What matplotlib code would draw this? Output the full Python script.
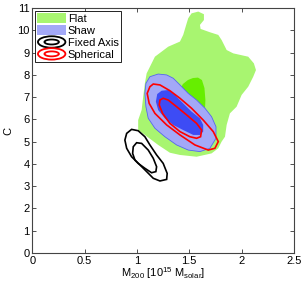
import matplotlib
matplotlib.use("Agg")
import matplotlib.pyplot as plt
from matplotlib.patches import Polygon, Ellipse, Rectangle
from matplotlib.legend_handler import HandlerBase

plt.rcParams['font.family'] = ['Liberation Sans', 'DejaVu Sans']
plt.rcParams['mathtext.fontset'] = 'custom'
plt.rcParams['mathtext.rm'] = 'Liberation Sans'
plt.rcParams['mathtext.it'] = 'Liberation Sans'

# Contour outlines: (M200 [1e15 Msolar], C)
flat_95_m = [1.490, 1.522, 1.586, 1.640, 1.640, 1.602, 1.608, 1.697, 1.777, 1.809, 1.857, 1.920,
             2.063, 2.117, 2.137, 2.111, 2.063, 2.000, 1.952, 1.888, 1.857, 1.841, 1.809, 1.777,
             1.713, 1.570, 1.411, 1.315, 1.203, 1.076, 1.012, 1.012, 1.045, 1.060, 1.076, 1.093,
             1.172, 1.299, 1.411, 1.442, 1.475]
flat_95_c = [10.55, 10.77, 10.85, 10.73, 10.47, 10.25, 10.07, 9.92, 9.80, 9.57, 9.12, 8.97,
             8.82, 8.52, 8.22, 7.92, 7.47, 7.10, 6.57, 6.27, 5.75, 5.22, 5.00, 4.70,
             4.47, 4.32, 4.40, 4.50, 4.85, 5.30, 5.52, 5.97, 6.42, 7.02, 7.62, 8.07,
             8.82, 9.27, 9.50, 9.80, 10.32]

flat_68_m = [1.439, 1.487, 1.535, 1.583, 1.621, 1.645, 1.654, 1.650, 1.602, 1.458, 1.363]
flat_68_c = [7.59, 7.77, 7.86, 7.88, 7.77, 7.41, 6.87, 6.42, 5.75, 5.97, 6.87]

shaw_95_m = [1.086, 1.124, 1.203, 1.284, 1.347, 1.411, 1.490, 1.570, 1.650, 1.713, 1.755, 1.755,
             1.697, 1.602, 1.490, 1.379, 1.267, 1.172, 1.108, 1.086, 1.076]
shaw_95_c = [7.62, 7.92, 8.04, 8.00, 7.85, 7.55, 7.17, 6.87, 6.50, 6.12, 5.67, 5.15,
             4.70, 4.55, 4.62, 4.85, 5.22, 5.60, 6.05, 6.57, 7.17]

shaw_68_m = [1.194, 1.236, 1.299, 1.363, 1.442, 1.522, 1.602, 1.633, 1.633, 1.602, 1.538, 1.442,
             1.347, 1.267, 1.203, 1.181]
shaw_68_c = [7.14, 7.29, 7.32, 7.10, 6.72, 6.35, 6.05, 5.75, 5.45, 5.30, 5.30, 5.52,
             5.75, 6.05, 6.42, 6.80]

fixed_95_m = [0.902, 0.949, 1.012, 1.076, 1.124, 1.188, 1.251, 1.289, 1.284, 1.220, 1.156, 1.093,
              1.029, 0.949, 0.902, 0.885]
fixed_95_c = [5.37, 5.55, 5.49, 5.22, 4.85, 4.40, 4.02, 3.57, 3.30, 3.23, 3.35, 3.65,
              3.95, 4.32, 4.70, 5.07]

fixed_68_m = [0.965, 0.997, 1.045, 1.108, 1.156, 1.188, 1.181, 1.140, 1.076, 1.012, 0.981, 0.959]
fixed_68_c = [4.77, 4.95, 4.92, 4.62, 4.25, 3.87, 3.65, 3.60, 3.80, 4.02, 4.17, 4.47]

sph_95_m = [1.098, 1.124, 1.156, 1.220, 1.315, 1.411, 1.522, 1.633, 1.729, 1.777, 1.745, 1.681,
            1.554, 1.411, 1.284, 1.172, 1.117]
sph_95_c = [7.17, 7.47, 7.59, 7.55, 7.29, 6.95, 6.50, 5.97, 5.45, 5.00, 4.70, 4.62,
            4.85, 5.30, 5.75, 6.27, 6.72]

sph_68_m = [1.213, 1.220, 1.251, 1.299, 1.379, 1.475, 1.570, 1.618, 1.608, 1.570, 1.506, 1.411,
            1.315, 1.245]
sph_68_c = [6.65, 6.87, 6.95, 6.87, 6.57, 6.20, 5.82, 5.52, 5.22, 5.15, 5.22, 5.45,
            5.82, 6.27]

labels = ["Flat", "Shaw", "Fixed Axis", "Spherical"]
x_ticks = [0, 0.5, 1, 1.5, 2, 2.5]
x_tick_labels = ["0", "0.5", "1", "1.5", "2", "2.5"]
y_ticks = list(range(0, 12))

c_flat_light = "#a8f570"
c_flat_dark = "#66ee00"
c_shaw_light = "#a3a8f7"
c_shaw_dark = "#3d4cf5"

fig = plt.figure(figsize=(3.04, 2.84), dpi=100)
ax = fig.add_axes([0.106, 0.110, 0.861, 0.861])

def poly(m, c, **kw):
    p = Polygon(list(zip(m, c)), closed=True, **kw)
    ax.add_patch(p)
    return p

poly(flat_95_m, flat_95_c, facecolor=c_flat_light, edgecolor='none', zorder=1)
poly(flat_68_m, flat_68_c, facecolor=c_flat_dark, edgecolor='none', zorder=2)
poly(shaw_95_m, shaw_95_c, facecolor=c_shaw_light, edgecolor="#5566ee", linewidth=0.6, zorder=3)
poly(shaw_68_m, shaw_68_c, facecolor=c_shaw_dark, edgecolor='none', zorder=4)
poly(fixed_95_m, fixed_95_c, facecolor='none', edgecolor='black', linewidth=1.2, zorder=5)
poly(fixed_68_m, fixed_68_c, facecolor='none', edgecolor='black', linewidth=1.2, zorder=5)
poly(sph_95_m, sph_95_c, facecolor='none', edgecolor='red', linewidth=1.2, zorder=6)
poly(sph_68_m, sph_68_c, facecolor='none', edgecolor='red', linewidth=1.2, zorder=6)

ax.set_xlim(0, 2.5)
ax.set_ylim(0, 11)
ax.set_xticks(x_ticks)
ax.set_xticklabels(x_tick_labels)
ax.set_yticks(y_ticks)
ax.tick_params(direction='in', length=3, width=0.6, top=True, right=True,
               labelsize=8, pad=2, colors='#333333', labelcolor='black')
for s in ax.spines.values():
    s.set_linewidth(0.8)
    s.set_color('#444444')

ax.set_xlabel(r"M$_{200}$ [10$^{15}$ M$_{solar}$]", fontsize=8, labelpad=0)
ax.set_ylabel("C", fontsize=8, labelpad=3)


class RingHandler(HandlerBase):
    def __init__(self, color):
        super().__init__()
        self.color = color

    def create_artists(self, legend, orig_handle, xdescent, ydescent, width, height, fontsize, trans):
        cx = width / 2 - xdescent
        cy = height / 2 - ydescent
        e1 = Ellipse((cx, cy), width * 0.95, height * 1.15, fill=False,
                     edgecolor=self.color, linewidth=1.3, transform=trans)
        e2 = Ellipse((cx, cy), width * 0.5, height * 0.5, fill=False,
                     edgecolor=self.color, linewidth=1.3, transform=trans)
        return [e1, e2]


h_flat = Rectangle((0, 0), 1, 1, facecolor=c_flat_light, edgecolor='none')
h_shaw = Rectangle((0, 0), 1, 1, facecolor=c_shaw_light, edgecolor='none')
h_fixed = Rectangle((0, 0), 1, 1)
h_sph = Rectangle((0, 0), 1, 1)

leg = ax.legend([h_flat, h_shaw, h_fixed, h_sph], labels,
                handler_map={h_fixed: RingHandler('black'), h_sph: RingHandler('red')},
                loc='upper left', bbox_to_anchor=(0.0, 1.0), fontsize=8,
                frameon=True, fancybox=False, edgecolor='black', framealpha=1,
                borderpad=0.2, labelspacing=0.1, handlelength=2.6, handleheight=1.0,
                handletextpad=0.15, borderaxespad=0.25)
leg.get_frame().set_linewidth(0.6)

fig.savefig("out.png", dpi=100)
